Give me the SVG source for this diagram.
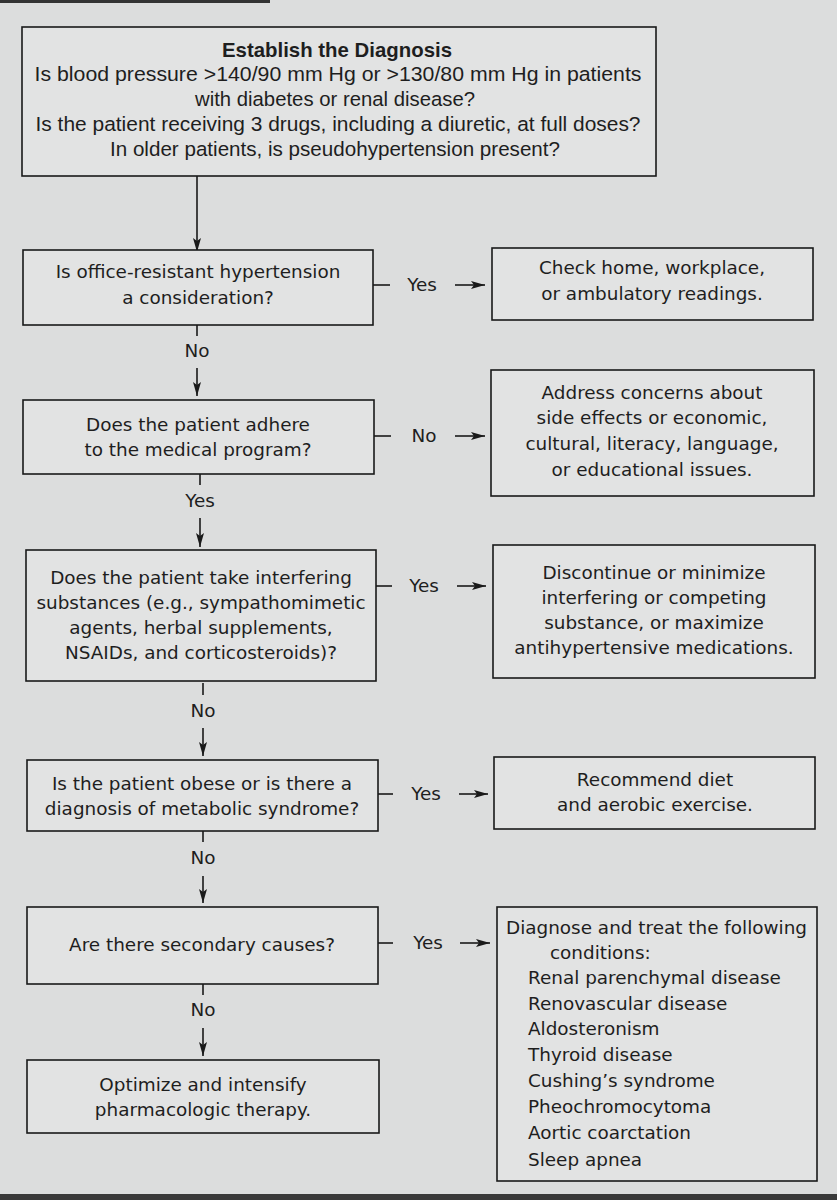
<svg xmlns="http://www.w3.org/2000/svg" width="837" height="1200" viewBox="0 0 837 1200">
<defs>
<marker id="ah" viewBox="0 0 14 10" refX="14" refY="5" markerWidth="14" markerHeight="10" markerUnits="userSpaceOnUse" orient="auto">
<path d="M0,1 L14,5 L0,9 L3,5 z" fill="#1a1a1a"/>
</marker>
<style>
rect.b{fill:#e2e3e3;stroke:#1a1a1a;stroke-width:1.6}
text{font-family:"DejaVu Sans","Liberation Sans",sans-serif;font-size:18.4px;fill:#1e1e1e}
.c{text-anchor:middle}
.t{font-family:"Liberation Sans",Arial,sans-serif;font-size:20.5px}
.tb{font-weight:bold}
line,path.l{stroke:#1a1a1a;stroke-width:1.6;fill:none}
</style>
</defs>
<rect x="0" y="0" width="837" height="1200" fill="#dcdddd"/>
<rect x="0" y="0" width="270" height="3" fill="#333"/>
<rect x="0" y="1194" width="837" height="6" fill="#3a3a3a"/>

<g id="connectors">
<line x1="197" y1="176" x2="197" y2="252" marker-end="url(#ah)"/>
<line x1="373" y1="285" x2="390" y2="285"/><line x1="455" y1="285" x2="485" y2="285" marker-end="url(#ah)"/>
<line x1="197" y1="325" x2="197" y2="336"/><line x1="197" y1="368" x2="197" y2="396" marker-end="url(#ah)"/>
<line x1="374" y1="436" x2="391" y2="436"/><line x1="455" y1="436" x2="485" y2="436" marker-end="url(#ah)"/>
<line x1="200" y1="474" x2="200" y2="485"/><line x1="200" y1="518" x2="200" y2="547" marker-end="url(#ah)"/>
<line x1="376" y1="586" x2="392" y2="586"/><line x1="457" y1="586" x2="486" y2="586" marker-end="url(#ah)"/>
<line x1="203" y1="683" x2="203" y2="695"/><line x1="203" y1="728" x2="203" y2="756" marker-end="url(#ah)"/>
<line x1="378" y1="794" x2="393" y2="794"/><line x1="459" y1="794" x2="488" y2="794" marker-end="url(#ah)"/>
<line x1="203" y1="831" x2="203" y2="842"/><line x1="203" y1="876" x2="203" y2="903" marker-end="url(#ah)"/>
<line x1="378" y1="943" x2="393" y2="943"/><line x1="460" y1="943" x2="490" y2="943" marker-end="url(#ah)"/>
<line x1="203" y1="984" x2="203" y2="995"/><line x1="203" y1="1028" x2="203" y2="1056" marker-end="url(#ah)"/>
<text class="c" x="422" y="291">Yes</text>
<text class="c" x="197" y="357">No</text>
<text class="c" x="424" y="442">No</text>
<text class="c" x="200" y="507">Yes</text>
<text class="c" x="424" y="592">Yes</text>
<text class="c" x="203" y="717">No</text>
<text class="c" x="426" y="800">Yes</text>
<text class="c" x="203" y="864">No</text>
<text class="c" x="428" y="949">Yes</text>
<text class="c" x="203" y="1016">No</text>
</g>

<g id="n1">
<rect class="b" x="22" y="27" width="634" height="149"/>
<text class="c t tb" x="337" y="57" textLength="230" lengthAdjust="spacingAndGlyphs">Establish the Diagnosis</text>
<text class="c t" x="338" y="81" textLength="607" lengthAdjust="spacingAndGlyphs">Is blood pressure &gt;140/90 mm Hg or &gt;130/80 mm Hg in patients</text>
<text class="c t" x="335" y="106" textLength="280" lengthAdjust="spacingAndGlyphs">with diabetes or renal disease?</text>
<text class="c t" x="338" y="131" textLength="605" lengthAdjust="spacingAndGlyphs">Is the patient receiving 3 drugs, including a diuretic, at full doses?</text>
<text class="c t" x="335" y="156" textLength="450" lengthAdjust="spacingAndGlyphs">In older patients, is pseudohypertension present?</text>
</g>

<g id="n2">
<rect class="b" x="23" y="250" width="350" height="75"/>
<text class="c" x="198" y="278">Is office-resistant hypertension</text>
<text class="c" x="198" y="304">a consideration?</text>
</g>
<g id="n2r">
<rect class="b" x="492" y="248" width="321" height="72"/>
<text class="c" x="652" y="274">Check home, workplace,</text>
<text class="c" x="652" y="300">or ambulatory readings.</text>
</g>

<g id="n3">
<rect class="b" x="23" y="400" width="351" height="74"/>
<text class="c" x="198" y="431">Does the patient adhere</text>
<text class="c" x="198" y="456">to the medical program?</text>
</g>
<g id="n3r">
<rect class="b" x="491" y="370" width="323" height="126"/>
<text class="c" x="652" y="399">Address concerns about</text>
<text class="c" x="652" y="424">side effects or economic,</text>
<text class="c" x="652" y="450">cultural, literacy, language,</text>
<text class="c" x="652" y="476">or educational issues.</text>
</g>

<g id="n4">
<rect class="b" x="26" y="550" width="350" height="131"/>
<text class="c" x="201" y="584">Does the patient take interfering</text>
<text class="c" x="201" y="609">substances (e.g., sympathomimetic</text>
<text class="c" x="201" y="634">agents, herbal supplements,</text>
<text class="c" x="201" y="659">NSAIDs, and corticosteroids)?</text>
</g>
<g id="n4r">
<rect class="b" x="493" y="545" width="322" height="133"/>
<text class="c" x="654" y="579">Discontinue or minimize</text>
<text class="c" x="654" y="604">interfering or competing</text>
<text class="c" x="654" y="629">substance, or maximize</text>
<text class="c" x="654" y="654">antihypertensive medications.</text>
</g>

<g id="n5">
<rect class="b" x="27" y="760" width="351" height="71"/>
<text class="c" x="202" y="790">Is the patient obese or is there a</text>
<text class="c" x="202" y="815">diagnosis of metabolic syndrome?</text>
</g>
<g id="n5r">
<rect class="b" x="494" y="757" width="321" height="72"/>
<text class="c" x="655" y="786">Recommend diet</text>
<text class="c" x="655" y="811">and aerobic exercise.</text>
</g>

<g id="n6">
<rect class="b" x="27" y="907" width="351" height="77"/>
<text class="c" x="202" y="951">Are there secondary causes?</text>
</g>
<g id="n6r">
<rect class="b" x="497" y="907" width="320" height="274"/>
<text x="506" y="934">Diagnose and treat the following</text>
<text x="550" y="959">conditions:</text>
<text x="528" y="984">Renal parenchymal disease</text>
<text x="528" y="1010">Renovascular disease</text>
<text x="528" y="1035">Aldosteronism</text>
<text x="528" y="1061">Thyroid disease</text>
<text x="528" y="1087">Cushing’s syndrome</text>
<text x="528" y="1113">Pheochromocytoma</text>
<text x="528" y="1139">Aortic coarctation</text>
<text x="528" y="1166">Sleep apnea</text>
</g>

<g id="n7">
<rect class="b" x="27" y="1060" width="352" height="73"/>
<text class="c" x="203" y="1091">Optimize and intensify</text>
<text class="c" x="203" y="1116">pharmacologic therapy.</text>
</g>
</svg>
